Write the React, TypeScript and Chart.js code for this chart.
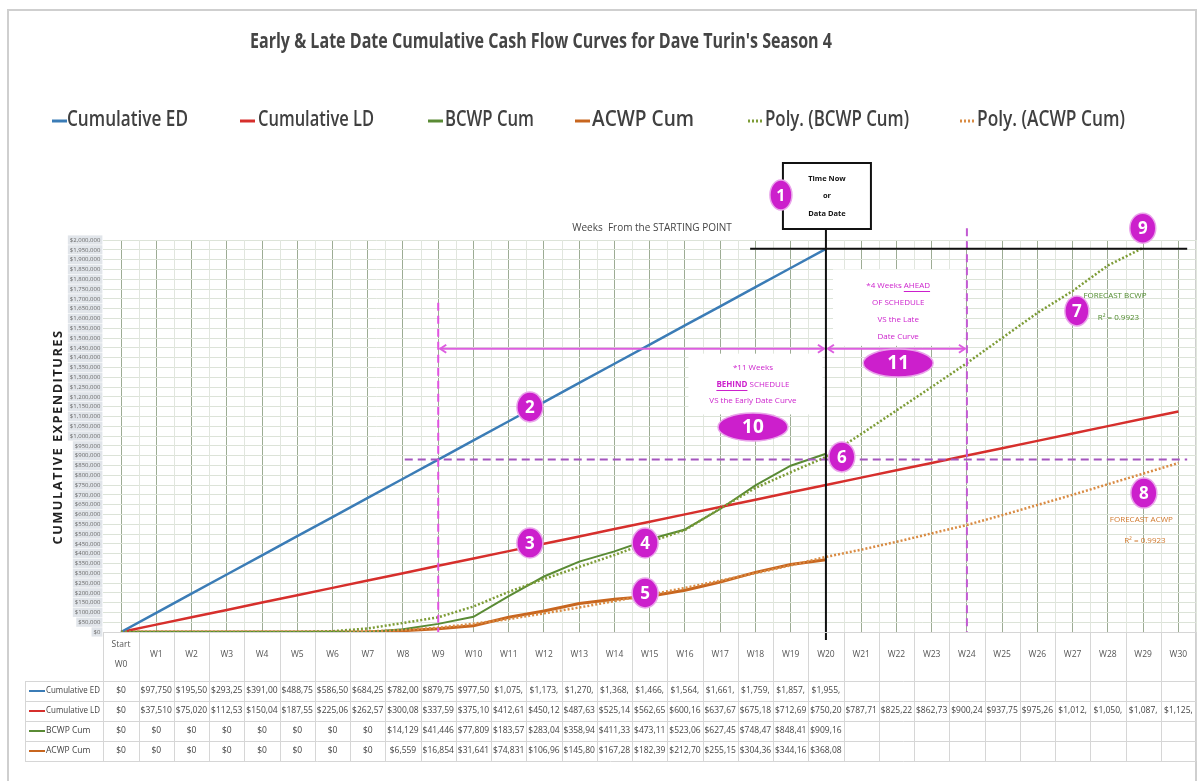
import React, { useEffect, useRef } from "react";
import { Chart, registerables } from "chart.js";

Chart.register(...registerables);

// ---- data -------------------------------------------------------------
const WEEKS = [
  "W0", "W1", "W2", "W3", "W4", "W5", "W6", "W7", "W8", "W9", "W10",
  "W11", "W12", "W13", "W14", "W15", "W16", "W17", "W18", "W19", "W20",
  "W21", "W22", "W23", "W24", "W25", "W26", "W27", "W28", "W29", "W30",
];

const CUM_ED = [
  0, 97750, 195500, 293250, 391000, 488750, 586500, 684250, 782000, 879750, 977500,
  1075250, 1173000, 1270750, 1368500, 1466250, 1564000, 1661750, 1759500, 1857250, 1955000,
  null, null, null, null, null, null, null, null, null, null,
];

const CUM_LD = [
  0, 37510, 75020, 112530, 150040, 187550, 225060, 262570, 300080, 337590, 375100,
  412610, 450120, 487630, 525140, 562650, 600160, 637670, 675180, 712690, 750200,
  787710, 825220, 862730, 900240, 937750, 975260, 1012770, 1050280, 1087790, 1125300,
];

const BCWP_CUM = [
  0, 0, 0, 0, 0, 0, 0, 0, 14129, 41446, 77809,
  183570, 283040, 358940, 411330, 473110, 523060, 627450, 748470, 848410, 909160,
  null, null, null, null, null, null, null, null, null, null,
];

const ACWP_CUM = [
  0, 0, 0, 0, 0, 0, 0, 0, 6559, 16854, 31641,
  74831, 106960, 145800, 167280, 182390, 212700, 255150, 304360, 344160, 368080,
  null, null, null, null, null, null, null, null, null, null,
];

// polynomial trend values (forecast curves)
const POLY_BCWP = [
  0, 0, 0, 0, 0, 0, 4000, 18000, 46000, 75000, 130000,
  205000, 270000, 332000, 393000, 459000, 520000, 630000, 735000, 815000, 893000,
  1010000, 1130000, 1250000, 1372000, 1500000, 1628000, 1740000, 1870000, 1960000, null,
];

const POLY_ACWP = [
  0, 0, 0, 0, 0, 0, 0, 3000, 10000, 22000, 42000,
  66000, 95000, 125000, 158000, 190000, 225000, 262000, 300000, 340000, 383000,
  420000, 460000, 503000, 546000, 596000, 648000, 700000, 754000, 808000, 862000,
];

const Y_MAX = 2000000;
const Y_STEP = 50000;

const SERIES_NAMES = [
  "Cumulative ED", "Cumulative LD", "BCWP Cum", "ACWP Cum",
  "Poly. (BCWP Cum)", "Poly. (ACWP Cum)",
];

// ---- styling ----------------------------------------------------------
const C_ED = "#3b7cb6";
const C_LD = "#d62f2c";
const C_BCWP = "#5a8b35";
const C_ACWP = "#c8661f";
const C_POLY_BCWP = "#7d9c36";
const C_POLY_ACWP = "#d98b43";
const MAGENTA = "#cc1fcc";
const PINK = "#e052e0";
const PURPLE = "#a455bd";
const FONT = '"Open Sans", "DejaVu Sans", sans-serif';

const PLOT_TOP = 240;
const PLOT_LEFT = 103.4;
const PLOT_RIGHT_PAD = 8;
const TABLE_HEIGHT = 149;
const HEADER_H = 49;
const ROW_H = 20;

const LEGEND_Y = 120;
const LEGEND_POS = [
  { keyX: 52, textX: 67, textW: 121 },
  { keyX: 240, textX: 258, textW: 116 },
  { keyX: 428, textX: 445, textW: 89 },
  { keyX: 575, textX: 592, textW: 102 },
  { keyX: 748, textX: 765, textW: 144 },
  { keyX: 960, textX: 977, textW: 148 },
];

const cellText = (v: number | null) =>
  v === null || v === undefined ? "" : ("$" + Math.round(v).toLocaleString("en-US")).slice(0, 7);

function badge(ctx: CanvasRenderingContext2D, x: number, y: number, rx: number, ry: number, label: string, size: number) {
  ctx.save();
  ctx.beginPath();
  ctx.ellipse(x, y, rx, ry, 0, 0, Math.PI * 2);
  ctx.fillStyle = MAGENTA;
  ctx.fill();
  ctx.lineWidth = 1.5;
  ctx.strokeStyle = "#e9a4ea";
  ctx.stroke();
  ctx.fillStyle = "#ffffff";
  ctx.font = `bold ${size}px ${FONT}`;
  ctx.textAlign = "center";
  ctx.textBaseline = "middle";
  ctx.fillText(label, x, y + 1);
  ctx.restore();
}

function chevron(ctx: CanvasRenderingContext2D, x: number, y: number, dir: number) {
  ctx.beginPath();
  ctx.moveTo(x + dir * 6, y - 4);
  ctx.lineTo(x, y);
  ctx.lineTo(x + dir * 6, y + 4);
  ctx.stroke();
}

function text(ctx: CanvasRenderingContext2D, s: string, x: number, y: number, font: string, color: string, align: CanvasTextAlign = "center", maxW?: number) {
  ctx.font = font;
  ctx.fillStyle = color;
  ctx.textAlign = align;
  ctx.textBaseline = "middle";
  if (maxW) ctx.fillText(s, x, y, maxW);
  else ctx.fillText(s, x, y);
}

// frame, title, legend and white label panels
const backdropPlugin = {
  id: "backdrop",
  beforeDraw(chart: any) {
    const ctx = chart.ctx as CanvasRenderingContext2D;
    ctx.save();
    ctx.fillStyle = "#ffffff";
    ctx.fillRect(0, 0, chart.width, chart.height);
    ctx.strokeStyle = "#cfcfcf";
    ctx.lineWidth = 2;
    ctx.beginPath();
    ctx.moveTo(8, 781);
    ctx.lineTo(8, 10);
    ctx.lineTo(1196, 10);
    ctx.lineTo(1196, 781);
    ctx.stroke();

    text(ctx, "Early & Late Date Cumulative Cash Flow Curves for Dave Turin's Season 4", 541, 42,
      `bold 21px ${FONT}`, "#454545", "center", 582);

    const colors = [C_ED, C_LD, C_BCWP, C_ACWP, C_POLY_BCWP, C_POLY_ACWP];
    SERIES_NAMES.forEach((name, i) => {
      const p = LEGEND_POS[i];
      ctx.strokeStyle = colors[i];
      ctx.lineWidth = 3;
      ctx.setLineDash(i >= 4 ? [2, 2] : []);
      ctx.beginPath();
      ctx.moveTo(p.keyX, LEGEND_Y + 1);
      ctx.lineTo(p.keyX + 15, LEGEND_Y + 1);
      ctx.stroke();
      ctx.setLineDash([]);
      text(ctx, name, p.textX, LEGEND_Y, `600 22px ${FONT}`, "#404040", "left", p.textW);
    });
    ctx.restore();
  },
  beforeDatasetsDraw(chart: any) {
    const ctx = chart.ctx as CanvasRenderingContext2D;
    const x = chart.scales.x, y = chart.scales.y;
    ctx.save();
    // minor vertical grid at column boundaries
    ctx.strokeStyle = "#e1e6de";
    ctx.lineWidth = 1;
    for (let i = 0; i < WEEKS.length; i++) {
      const xm = Math.round(x.getPixelForValue(i + 0.5)) + 0.5;
      ctx.beginPath();
      ctx.moveTo(xm, chart.chartArea.top);
      ctx.lineTo(xm, chart.chartArea.bottom);
      ctx.stroke();
    }
    // white panels behind the schedule notes
    ctx.fillStyle = "#ffffff";
    ctx.fillRect(x.getPixelForValue(20.2), y.getPixelForValue(1850000), x.getPixelForValue(23.9) - x.getPixelForValue(20.2), y.getPixelForValue(1460000) - y.getPixelForValue(1850000));
    ctx.fillRect(x.getPixelForValue(16.1), y.getPixelForValue(1420000), x.getPixelForValue(19.9) - x.getPixelForValue(16.1), y.getPixelForValue(1110000) - y.getPixelForValue(1420000));
    ctx.restore();
  },
};

// data table under the plot
const tablePlugin = {
  id: "dataTable",
  afterDraw(chart: any) {
    const ctx = chart.ctx as CanvasRenderingContext2D;
    const x = chart.scales.x;
    const area = chart.chartArea;
    const n = WEEKS.length;
    const colW = (area.right - area.left) / n;
    const top = area.bottom;
    const hb = top + HEADER_H;
    const bottom = hb + ROW_H * 4;
    ctx.save();
    ctx.strokeStyle = "#d6d6d6";
    ctx.lineWidth = 1;
    // horizontal rules
    const hl = (yy: number, x0: number) => {
      ctx.beginPath();
      ctx.moveTo(x0, Math.round(yy) + 0.5);
      ctx.lineTo(area.right, Math.round(yy) + 0.5);
      ctx.stroke();
    };
    hl(top, area.left);
    for (let r = 0; r <= 4; r++) hl(hb + r * ROW_H, 25);
    // vertical rules
    for (let k = 0; k <= n; k++) {
      const xx = Math.round(area.left + k * colW) + 0.5;
      ctx.beginPath();
      ctx.moveTo(xx, top);
      ctx.lineTo(xx, bottom);
      ctx.stroke();
    }
    ctx.beginPath();
    ctx.moveTo(25.5, hb);
    ctx.lineTo(25.5, bottom);
    ctx.stroke();

    // header labels
    WEEKS.forEach((w, i) => {
      const cx = x.getPixelForValue(i);
      if (i === 0) {
        text(ctx, "Start", cx, top + 13, `8.5px ${FONT}`, "#555");
        text(ctx, w, cx, top + 33, `8.5px ${FONT}`, "#555");
      } else {
        text(ctx, w, cx, top + 23, `8.5px ${FONT}`, "#555");
      }
    });

    const rows = [
      { name: SERIES_NAMES[0], color: C_ED, values: CUM_ED },
      { name: SERIES_NAMES[1], color: C_LD, values: CUM_LD },
      { name: SERIES_NAMES[2], color: C_BCWP, values: BCWP_CUM },
      { name: SERIES_NAMES[3], color: C_ACWP, values: ACWP_CUM },
    ];
    rows.forEach((row, r) => {
      const cy = hb + r * ROW_H + ROW_H / 2;
      ctx.strokeStyle = row.color;
      ctx.lineWidth = 2;
      ctx.beginPath();
      ctx.moveTo(29, cy);
      ctx.lineTo(45, cy);
      ctx.stroke();
      text(ctx, row.name, 46, cy, `8.5px ${FONT}`, "#444", "left", 54);
      row.values.forEach((v, i) => {
        const s = cellText(v as number | null);
        if (s) text(ctx, s, x.getPixelForValue(i), cy, `8.5px ${FONT}`, "#444", "center", colW - 2);
      });
    });

    // axis titles
    ctx.save();
    ctx.translate(58, 437);
    ctx.rotate(-Math.PI / 2);
    (ctx as any).letterSpacing = "1.5px";
    text(ctx, "CUMULATIVE EXPENDITURES", 0, 0, `bold 13px ${FONT}`, "#222", "center", 215);
    (ctx as any).letterSpacing = "0px";
    ctx.restore();
    text(ctx, "Weeks  From the STARTING POINT", 652, 228, `10px ${FONT}`, "#444", "center", 160);
    ctx.restore();
  },
};

// schedule annotations drawn over the curves
const notesPlugin = {
  id: "scheduleNotes",
  afterDatasetsDraw(chart: any) {
    const ctx = chart.ctx as CanvasRenderingContext2D;
    const x = chart.scales.x, y = chart.scales.y;
    const px = (i: number) => x.getPixelForValue(i);
    const py = (v: number) => y.getPixelForValue(v);
    const now = px(20);
    ctx.save();

    // dashed guides
    ctx.lineWidth = 2;
    ctx.setLineDash([8, 5]);
    ctx.strokeStyle = PURPLE;
    ctx.beginPath();
    ctx.moveTo(px(8.05), py(879750));
    ctx.lineTo(px(30.25), py(879750));
    ctx.stroke();
    ctx.strokeStyle = PINK;
    ctx.beginPath();
    ctx.moveTo(px(9), py(1680000));
    ctx.lineTo(px(9), py(0));
    ctx.stroke();
    ctx.strokeStyle = "#c25ad2";
    ctx.beginPath();
    ctx.moveTo(px(24), py(2060000));
    ctx.lineTo(px(24), py(0));
    ctx.stroke();
    ctx.setLineDash([]);

    // schedule variance arrows
    const ay = py(1445000);
    ctx.strokeStyle = "#dd5ee0";
    ctx.lineWidth = 2;
    ctx.beginPath();
    ctx.moveTo(px(9) + 2, ay);
    ctx.lineTo(now - 2, ay);
    ctx.moveTo(now + 2, ay);
    ctx.lineTo(px(24) - 2, ay);
    ctx.stroke();
    chevron(ctx, px(9) + 2, ay, 1);
    chevron(ctx, now - 2, ay, -1);
    chevron(ctx, now + 2, ay, 1);
    chevron(ctx, px(24) - 2, ay, -1);

    // time-now line and level line
    ctx.strokeStyle = "#111";
    ctx.lineWidth = 2;
    ctx.beginPath();
    ctx.moveTo(now, 229);
    ctx.lineTo(now, chart.chartArea.bottom + 8);
    ctx.moveTo(px(17.85), py(1955000));
    ctx.lineTo(px(30.25), py(1955000));
    ctx.stroke();
    ctx.fillStyle = "#fff";
    ctx.fillRect(now - 43, 163, 88, 66);
    ctx.strokeRect(now - 43, 163, 88, 66);
    text(ctx, "Time Now", now + 1, 179, `bold 7.5px ${FONT}`, "#111");
    text(ctx, "or", now + 1, 196, `bold 7.5px ${FONT}`, "#111");
    text(ctx, "Data Date", now + 1, 214, `bold 7.5px ${FONT}`, "#111");

    // notes text
    const nf = `8px ${FONT}`;
    const nx = px(22.05);
    ctx.font = nf;
    const a1 = "*4 Weeks ";
    const a2 = "AHEAD";
    const w1 = ctx.measureText(a1).width, w2 = ctx.measureText(a2).width;
    const sx = nx - (w1 + w2) / 2;
    text(ctx, a1, sx, 286, nf, MAGENTA, "left");
    text(ctx, a2, sx + w1, 286, nf, MAGENTA, "left");
    ctx.strokeStyle = MAGENTA;
    ctx.lineWidth = 1;
    ctx.beginPath();
    ctx.moveTo(sx + w1, 291.5);
    ctx.lineTo(sx + w1 + w2, 291.5);
    ctx.stroke();
    text(ctx, "OF SCHEDULE", nx, 303, nf, MAGENTA);
    text(ctx, "VS the Late", nx, 320, nf, MAGENTA);
    text(ctx, "Date Curve", nx, 337, nf, MAGENTA);

    const bx = px(17.93);
    text(ctx, "*11 Weeks", bx, 368, nf, MAGENTA);
    ctx.font = `bold 8px ${FONT}`;
    const b1 = ctx.measureText("BEHIND").width;
    ctx.font = nf;
    const b2 = ctx.measureText(" SCHEDULE").width;
    const bsx = bx - (b1 + b2) / 2;
    text(ctx, "BEHIND", bsx, 385, `bold 8px ${FONT}`, MAGENTA, "left");
    text(ctx, " SCHEDULE", bsx + b1, 385, nf, MAGENTA, "left");
    ctx.beginPath();
    ctx.moveTo(bsx, 390.5);
    ctx.lineTo(bsx + b1, 390.5);
    ctx.stroke();
    text(ctx, "VS the Early Date Curve", bx, 401, nf, MAGENTA);

    // forecast labels
    text(ctx, "FORECAST BCWP", px(28.2), 296, `8px ${FONT}`, "#4f8a2c", "center", 66);
    text(ctx, "R\u00b2 = 0.9923", px(28.3), 318, `8px ${FONT}`, "#4f8a2c");
    text(ctx, "FORECAST ACWP", px(28.95), 520, `8px ${FONT}`, "#d0782c", "center", 66);
    text(ctx, "R\u00b2 = 0.9923", px(29.05), 541, `8px ${FONT}`, "#d0782c");

    // numbered markers
    badge(ctx, now - 45, 195, 11, 15, "1", 16);
    badge(ctx, px(11.6), py(1148000), 13, 15, "2", 17);
    badge(ctx, px(11.6), py(454000), 13, 15, "3", 17);
    badge(ctx, px(14.87), py(454000), 13, 15, "4", 17);
    badge(ctx, px(14.87), py(199000), 13, 15, "5", 17);
    badge(ctx, px(20.45), py(893000), 13, 15, "6", 17);
    badge(ctx, px(27.12), py(1638000), 12, 15, "7", 17);
    badge(ctx, px(29.02), py(709000), 13, 15, "8", 17);
    badge(ctx, px(28.99), py(2060000), 13, 15, "9", 17);
    badge(ctx, bx, py(1046000), 35, 14, "10", 19);
    badge(ctx, nx, py(1372000), 35, 14, "11", 19);

    ctx.restore();
  },
};

export default function App() {
  const ref = useRef<HTMLCanvasElement>(null);

  useEffect(() => {
    const canvas = ref.current;
    if (!canvas) return;
    const line = (label: string, data: (number | null)[], color: string, width: number, dash: number[] = []) => ({
      label,
      data,
      borderColor: color,
      backgroundColor: color,
      borderWidth: width,
      borderDash: dash,
      pointRadius: 0,
      tension: 0,
      spanGaps: false,
    });
    const chart = new Chart(canvas, {
      type: "line",
      data: {
        labels: WEEKS,
        datasets: [
          line(SERIES_NAMES[4], POLY_BCWP, C_POLY_BCWP, 2.5, [2, 2]),
          line(SERIES_NAMES[5], POLY_ACWP, C_POLY_ACWP, 2.5, [2, 2]),
          line(SERIES_NAMES[0], CUM_ED, C_ED, 2.5),
          line(SERIES_NAMES[1], CUM_LD, C_LD, 2.5),
          line(SERIES_NAMES[2], BCWP_CUM, C_BCWP, 2),
          line(SERIES_NAMES[3], ACWP_CUM, C_ACWP, 3),
        ],
      },
      options: {
        animation: false,
        responsive: false,
        devicePixelRatio: 1,
        layout: { padding: { top: PLOT_TOP, left: 0, right: PLOT_RIGHT_PAD, bottom: 0 } },
        plugins: {
          legend: { display: false },
          title: { display: false },
          tooltip: { enabled: false },
        },
        scales: {
          x: {
            type: "category",
            offset: true,
            grid: { offset: false, color: "#9dac94", lineWidth: 1, drawTicks: false },
            border: { display: false },
            ticks: { display: false },
            afterFit: (s: any) => {
              s.height = TABLE_HEIGHT;
            },
          },
          y: {
            min: 0,
            max: Y_MAX,
            grid: { color: "#dce3d8", lineWidth: 1, drawTicks: false },
            border: { display: false },
            ticks: {
              stepSize: Y_STEP,
              autoSkip: false,
              padding: 3,
              color: "#6a6a6a",
              font: { size: 6, family: FONT },
              showLabelBackdrop: true,
              backdropColor: "#e1e5ea",
              backdropPadding: { top: 1, bottom: 1, left: 2, right: 2 },
              callback: (v: any) => "$" + Number(v).toLocaleString("en-US"),
            },
            afterFit: (s: any) => {
              s.width = PLOT_LEFT;
            },
          },
        },
      } as any,
      plugins: [backdropPlugin, tablePlugin, notesPlugin],
    });
    return () => chart.destroy();
  }, []);

  return (
    <canvas
      ref={ref}
      width={1204}
      height={781}
      style={{ position: "absolute", left: 0, top: 0, width: 1204, height: 781 }}
    />
  );
}
